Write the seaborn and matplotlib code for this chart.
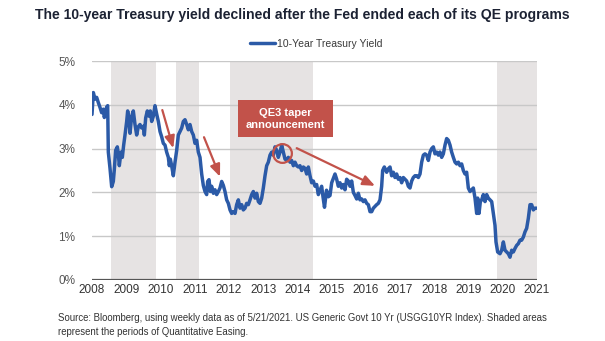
import numpy as np
import pandas as pd
import matplotlib
matplotlib.use("Agg")
import matplotlib.pyplot as plt
from matplotlib.patches import Rectangle
import seaborn as sns

# ---- data (x = position on the year axis, y = yield in %) ----
year_pos = [
    2008.000, 2008.039, 2008.088, 2008.136, 2008.185, 2008.234, 2008.282, 2008.331, 2008.360, 2008.399,
    2008.429, 2008.458, 2008.477, 2008.526, 2008.575, 2008.623, 2008.652, 2008.691, 2008.740, 2008.769,
    2008.798, 2008.847, 2008.886, 2008.925, 2008.964, 2009.013, 2009.042, 2009.081, 2009.110, 2009.159,
    2009.207, 2009.256, 2009.305, 2009.353, 2009.402, 2009.451, 2009.500, 2009.529, 2009.568, 2009.616,
    2009.665, 2009.704, 2009.743, 2009.792, 2009.840, 2009.889, 2009.938, 2009.987, 2010.035, 2010.084,
    2010.133, 2010.181, 2010.230, 2010.259, 2010.288, 2010.327, 2010.376, 2010.425, 2010.474, 2010.522,
    2010.571, 2010.620, 2010.668, 2010.717, 2010.766, 2010.814, 2010.863, 2010.912, 2010.960, 2011.009,
    2011.058, 2011.106, 2011.155, 2011.204, 2011.252, 2011.301, 2011.350, 2011.379, 2011.418, 2011.457,
    2011.496, 2011.545, 2011.593, 2011.642, 2011.691, 2011.739, 2011.788, 2011.837, 2011.885, 2011.934,
    2011.983, 2012.032, 2012.080, 2012.129, 2012.178, 2012.226, 2012.275, 2012.324, 2012.372, 2012.421,
    2012.470, 2012.518, 2012.567, 2012.616, 2012.665, 2012.713, 2012.762, 2012.811, 2012.859, 2012.908,
    2012.957, 2013.005, 2013.054, 2013.103, 2013.151, 2013.200, 2013.249, 2013.297, 2013.346, 2013.395,
    2013.443, 2013.492, 2013.541, 2013.589, 2013.638, 2013.687, 2013.736, 2013.784, 2013.833, 2013.882,
    2013.930, 2013.979, 2014.028, 2014.076, 2014.125, 2014.174, 2014.222, 2014.271, 2014.320, 2014.369,
    2014.417, 2014.466, 2014.515, 2014.563, 2014.612, 2014.661, 2014.709, 2014.748, 2014.792, 2014.851,
    2014.904, 2014.953, 2015.002, 2015.099, 2015.148, 2015.196, 2015.245, 2015.294, 2015.342, 2015.391,
    2015.440, 2015.488, 2015.537, 2015.586, 2015.635, 2015.683, 2015.732, 2015.781, 2015.829, 2015.878,
    2015.927, 2015.975, 2016.024, 2016.073, 2016.122, 2016.170, 2016.219, 2016.268, 2016.316, 2016.365,
    2016.414, 2016.462, 2016.491, 2016.540, 2016.608, 2016.657, 2016.706, 2016.754, 2016.803, 2016.852,
    2016.900, 2016.949, 2016.998, 2017.046, 2017.095, 2017.144, 2017.193, 2017.241, 2017.290, 2017.339,
    2017.387, 2017.436, 2017.485, 2017.533, 2017.582, 2017.631, 2017.679, 2017.728, 2017.777, 2017.826,
    2017.874, 2017.923, 2017.972, 2018.020, 2018.069, 2018.118, 2018.166, 2018.215, 2018.264, 2018.313,
    2018.361, 2018.410, 2018.459, 2018.507, 2018.556, 2018.605, 2018.653, 2018.702, 2018.751, 2018.799,
    2018.848, 2018.897, 2018.945, 2018.994, 2019.043, 2019.092, 2019.140, 2019.189, 2019.238, 2019.267,
    2019.306, 2019.345, 2019.384, 2019.432, 2019.481, 2019.530, 2019.578, 2019.627, 2019.676, 2019.724,
    2019.773, 2019.802, 2019.851, 2019.919, 2019.968, 2020.017, 2020.065, 2020.114, 2020.163, 2020.211,
    2020.260, 2020.309, 2020.357, 2020.406, 2020.455, 2020.504, 2020.552, 2020.601, 2020.650, 2020.698,
    2020.747, 2020.796, 2020.844, 2020.893, 2020.942, 2020.990,
]
yield_pct = [
    3.78, 4.28, 4.13, 4.17, 4.05, 3.94, 3.82, 3.90, 3.71, 3.86,
    3.95, 3.98, 2.92, 2.55, 2.13, 2.25, 2.52, 2.96, 3.04, 2.88,
    2.61, 2.92, 2.80, 3.08, 3.31, 3.62, 3.86, 3.66, 3.35, 3.74,
    3.86, 3.55, 3.31, 3.50, 3.55, 3.47, 3.51, 3.31, 3.70, 3.86,
    3.74, 3.86, 3.62, 3.74, 3.98, 3.79, 3.62, 3.39, 3.27, 3.12,
    3.08, 2.92, 2.80, 2.61, 2.76, 2.61, 2.38, 2.69, 2.96, 3.31,
    3.39, 3.47, 3.62, 3.66, 3.55, 3.43, 3.55, 3.39, 3.31, 3.12,
    3.19, 2.92, 2.80, 2.42, 2.16, 2.02, 1.95, 2.25, 2.29, 2.02,
    2.14, 1.98, 2.06, 1.95, 2.02, 2.10, 2.25, 2.16, 2.02, 1.83,
    1.75, 1.60, 1.52, 1.56, 1.52, 1.72, 1.83, 1.64, 1.72, 1.60,
    1.64, 1.75, 1.72, 1.83, 1.95, 2.02, 1.87, 1.98, 1.79, 1.75,
    1.87, 2.10, 2.38, 2.61, 2.69, 2.85, 2.92, 2.85, 3.04, 2.96,
    2.80, 2.92, 3.08, 2.92, 2.76, 2.73, 2.80, 2.69, 2.73, 2.61,
    2.69, 2.61, 2.58, 2.61, 2.50, 2.58, 2.55, 2.42, 2.58, 2.38,
    2.22, 2.26, 2.14, 2.18, 1.95, 2.05, 2.14, 1.90, 1.66, 2.05,
    1.90, 1.93, 2.22, 2.42, 2.30, 2.14, 2.22, 2.10, 2.18, 2.06,
    2.30, 2.26, 2.14, 2.26, 2.00, 1.93, 1.85, 1.98, 1.83, 1.85,
    1.79, 1.83, 1.75, 1.72, 1.56, 1.56, 1.64, 1.68, 1.72, 1.75,
    1.83, 2.14, 2.50, 2.58, 2.46, 2.54, 2.58, 2.38, 2.46, 2.34,
    2.42, 2.30, 2.34, 2.22, 2.34, 2.30, 2.26, 2.14, 2.10, 2.26,
    2.34, 2.38, 2.38, 2.34, 2.42, 2.69, 2.85, 2.88, 2.85, 2.73,
    2.92, 3.00, 3.04, 2.88, 2.92, 2.85, 2.92, 2.80, 2.88, 3.08,
    3.23, 3.19, 3.08, 2.92, 2.80, 2.69, 2.65, 2.69, 2.61, 2.65,
    2.50, 2.42, 2.46, 2.10, 2.02, 2.06, 2.10, 1.87, 1.52, 1.87,
    1.52, 1.79, 1.83, 1.95, 1.79, 1.95, 1.87, 1.83, 1.79, 1.52,
    1.25, 0.87, 0.64, 0.60, 0.68, 0.87, 0.68, 0.64, 0.60, 0.52,
    0.68, 0.64, 0.72, 0.79, 0.83, 0.91, 0.91, 0.98, 1.10, 1.18,
    1.41, 1.72, 1.72, 1.60, 1.64, 1.64,
]
series_name = "10-Year Treasury Yield"

# QE periods (start, end) on the year axis
qe_starts = [2008.555, 2010.454, 2012.032, 2019.840]
qe_ends = [2009.870, 2011.126, 2014.465, 2021.000]

x_ticks = list(range(2008, 2022))
x_tick_labels = [str(y) for y in x_ticks]
y_ticks = [0, 1, 2, 3, 4, 5]
y_tick_labels = [f"{v}%" for v in y_ticks]

# annotation arrows: (x_start, y_start, x_end, y_end)
arrows = [
    (2010.054, 3.88, 2010.375, 3.01),
    (2011.272, 3.26, 2011.739, 2.36),
    (2013.980, 3.01, 2016.268, 2.15),
]
taper_point = (2013.542, 2.89)
taper_text = "QE3 taper\nannouncement"

title = "The 10-year Treasury yield declined after the Fed ended each of its QE programs"
source = ("Source: Bloomberg, using weekly data as of 5/21/2021. US Generic Govt 10 Yr (USGG10YR Index). Shaded areas\n"
          "represent the periods of Quantitative Easing.")

# ---- style ----
sns.set_theme(style="white")
plt.rcParams["font.family"] = ["Liberation Sans", "DejaVu Sans"]

LINE = "#2b5aa7"
RED = "#c2524a"
SHADE = "#e6e3e3"
GRID = "#c8c8c8"

fig = plt.figure(figsize=(6.05, 3.41), dpi=100)
ax = fig.add_axes([92 / 605, 1 - 280 / 341, 445 / 605, 219 / 341])

for s, e in zip(qe_starts, qe_ends):
    ax.axvspan(s, e, color=SHADE, lw=0, zorder=0)

for v in y_ticks[1:]:
    ax.axhline(v, color=GRID, lw=1.0, zorder=1)
ax.axhline(0, color="#555555", lw=1.6, zorder=1)

df = pd.DataFrame({"year": year_pos, "yield": yield_pct, "series": series_name})
sns.lineplot(data=df, x="year", y="yield", hue="series", palette=[LINE],
             linewidth=2.5, ax=ax, zorder=3, sort=False)

ax.set_xlim(2008, 2021)
ax.set_ylim(0, 5)
ax.set_xticks(x_ticks)
ax.set_xticklabels(x_tick_labels, fontsize=8.5, color="#333333")
ax.set_yticks(y_ticks)
ax.set_yticklabels(y_tick_labels, fontsize=8.5, color="#555555")
ax.tick_params(axis="both", length=0, pad=3)
ax.tick_params(axis="y", pad=12)
ax.set_xlabel("")
ax.set_ylabel("")
for sp in ax.spines.values():
    sp.set_visible(False)

# arrows
for xs, ys, xe, ye in arrows:
    ax.annotate("", xy=(xe, ye), xytext=(xs, ys),
                arrowprops=dict(arrowstyle="-|>,head_length=0.6,head_width=0.25",
                                color=RED, lw=1.6, shrinkA=0, shrinkB=0), zorder=4)

ax.plot([taper_point[0]], [taper_point[1]], marker="o", ms=13.5, mfc="none",
        mec=RED, mew=1.6, zorder=5)

ax.add_patch(Rectangle((146 / 445, 143 / 219), 95 / 445, 37 / 219,
                       transform=ax.transAxes, facecolor=RED, edgecolor="none", zorder=6))
ax.text(193.5 / 445, 161.5 / 219, taper_text, transform=ax.transAxes, ha="center",
        va="center", color="white", fontsize=8, fontweight="bold", linespacing=1.25, zorder=7)

leg = ax.legend(loc="center", bbox_to_anchor=(316 / 605, 1 - 44 / 341),
                bbox_transform=fig.transFigure, frameon=False, fontsize=7.5,
                handlelength=2.4, handletextpad=0.2)
for t in leg.get_texts():
    t.set_color("#3a3a3a")

fig.text(302 / 605, 1 - 15 / 341, title, ha="center", va="center", fontsize=10.1,
         fontweight="bold", color="#1c2233")
fig.text(58 / 605, 1 - 325 / 341, source, ha="left", va="center", fontsize=6.95,
         color="#333333", linespacing=1.45)

fig.savefig("out.png", dpi=100)
